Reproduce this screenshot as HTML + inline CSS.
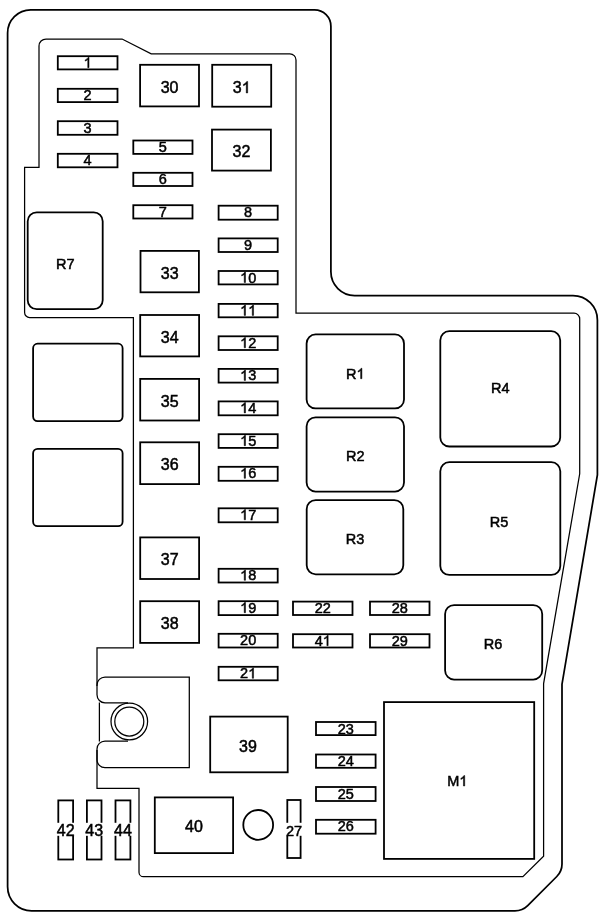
<!DOCTYPE html>
<html><head><meta charset="utf-8"><style>
html,body{margin:0;padding:0;background:#fff;}
body{width:600px;height:917px;overflow:hidden;}
svg{display:block;will-change:transform;}
text{font-family:"Liberation Sans",sans-serif;}
</style></head><body>
<svg width="600" height="917" viewBox="0 0 600 917">
<g fill="none" stroke="#000" stroke-width="1.8">
<path d="M7.6,33 A23.1,23.1 0 0 1 30.7,9.9 H314.5 A16.4,16.4 0 0 1 330.9,26.3 V271.8 A23.7,23.7 0 0 0 354.6,295.5 H573 A24.4,24.4 0 0 1 597.4,319.9 V475 L562,684.2 V864 Q562,871.3 556.8,876.5 L527.7,905.6 Q522.5,910.8 515,910.8 H31.6 A24,24 0 0 1 7.6,886.8 Z" stroke-width="1.75"/>
<path d="M97,686 V647.8 H133.4 V317.5 H29.6 A5,5 0 0 1 24.6,312.5 V167.3 H39 V46 A7,7 0 0 1 46,39 H122.1 L151.2,53.8 H289.9 A6.1,6.1 0 0 1 296,59.9 V313.2 H574 A5.7,5.7 0 0 1 579.7,318.9 V473.8 L543.6,683.6 V856.3 L522.9,876.7 H143.5 A4.5,4.5 0 0 1 139,872.2 V788.3 H97 V750" stroke-width="1.25"/>
<rect x="57.8" y="56.2" width="59.7" height="13.2" rx="0"/>
<text x="87.65" y="67.7" font-size="14.5" fill="#000" stroke="#000" stroke-width="0.5" text-anchor="middle">&#x2007;</text>
<path d="M763,0H583V1147Q518,1085 413,1023Q307,961 223,930V1104Q374,1175 487,1276Q600,1377 647,1472H763Z" transform="translate(83.62,67.70) scale(0.00708,-0.00708)" fill="#000" stroke="#000" stroke-width="70.6"/>
<rect x="57.8" y="88.8" width="59.7" height="13.3" rx="0"/>
<text x="87.65" y="100.3" font-size="14.5" fill="#000" stroke="#000" stroke-width="0.5" text-anchor="middle">2</text>
<rect x="57.8" y="121.2" width="59.7" height="13.6" rx="0"/>
<text x="87.65" y="132.7" font-size="14.5" fill="#000" stroke="#000" stroke-width="0.5" text-anchor="middle">3</text>
<rect x="57.8" y="153.8" width="59.7" height="13.5" rx="0"/>
<text x="87.65" y="165.3" font-size="14.5" fill="#000" stroke="#000" stroke-width="0.5" text-anchor="middle">4</text>
<rect x="133.3" y="140.5" width="59.2" height="13.4" rx="0"/>
<text x="162.9" y="152" font-size="14.5" fill="#000" stroke="#000" stroke-width="0.5" text-anchor="middle">5</text>
<rect x="133.3" y="172.8" width="59.2" height="13.2" rx="0"/>
<text x="162.9" y="184.3" font-size="14.5" fill="#000" stroke="#000" stroke-width="0.5" text-anchor="middle">6</text>
<rect x="133.3" y="205.2" width="59.2" height="13.3" rx="0"/>
<text x="162.9" y="216.7" font-size="14.5" fill="#000" stroke="#000" stroke-width="0.5" text-anchor="middle">7</text>
<rect x="218.6" y="205.7" width="59.1" height="14" rx="0"/>
<text x="248.15" y="217.2" font-size="14.5" fill="#000" stroke="#000" stroke-width="0.5" text-anchor="middle">8</text>
<rect x="218.6" y="238.4" width="59.1" height="13.6" rx="0"/>
<text x="248.15" y="249.9" font-size="14.5" fill="#000" stroke="#000" stroke-width="0.5" text-anchor="middle">9</text>
<rect x="218.6" y="271" width="59.1" height="13.4" rx="0"/>
<text x="248.15" y="282.5" font-size="14.5" fill="#000" stroke="#000" stroke-width="0.5" text-anchor="middle">&#x2007;0</text>
<path d="M763,0H583V1147Q518,1085 413,1023Q307,961 223,930V1104Q374,1175 487,1276Q600,1377 647,1472H763Z" transform="translate(240.09,282.50) scale(0.00708,-0.00708)" fill="#000" stroke="#000" stroke-width="70.6"/>
<rect x="218.6" y="303.9" width="59.1" height="13.4" rx="0"/>
<text x="248.15" y="315.4" font-size="14.5" fill="#000" stroke="#000" stroke-width="0.5" text-anchor="middle">&#x2007;&#x2007;</text>
<path d="M763,0H583V1147Q518,1085 413,1023Q307,961 223,930V1104Q374,1175 487,1276Q600,1377 647,1472H763Z" transform="translate(240.09,315.40) scale(0.00708,-0.00708)" fill="#000" stroke="#000" stroke-width="70.6"/>
<path d="M763,0H583V1147Q518,1085 413,1023Q307,961 223,930V1104Q374,1175 487,1276Q600,1377 647,1472H763Z" transform="translate(248.15,315.40) scale(0.00708,-0.00708)" fill="#000" stroke="#000" stroke-width="70.6"/>
<rect x="218.6" y="336.3" width="59.1" height="13.7" rx="0"/>
<text x="248.15" y="347.8" font-size="14.5" fill="#000" stroke="#000" stroke-width="0.5" text-anchor="middle">&#x2007;2</text>
<path d="M763,0H583V1147Q518,1085 413,1023Q307,961 223,930V1104Q374,1175 487,1276Q600,1377 647,1472H763Z" transform="translate(240.09,347.80) scale(0.00708,-0.00708)" fill="#000" stroke="#000" stroke-width="70.6"/>
<rect x="218.6" y="368.9" width="59.1" height="13.7" rx="0"/>
<text x="248.15" y="380.4" font-size="14.5" fill="#000" stroke="#000" stroke-width="0.5" text-anchor="middle">&#x2007;3</text>
<path d="M763,0H583V1147Q518,1085 413,1023Q307,961 223,930V1104Q374,1175 487,1276Q600,1377 647,1472H763Z" transform="translate(240.09,380.40) scale(0.00708,-0.00708)" fill="#000" stroke="#000" stroke-width="70.6"/>
<rect x="218.6" y="401.4" width="59.1" height="13.9" rx="0"/>
<text x="248.15" y="412.9" font-size="14.5" fill="#000" stroke="#000" stroke-width="0.5" text-anchor="middle">&#x2007;4</text>
<path d="M763,0H583V1147Q518,1085 413,1023Q307,961 223,930V1104Q374,1175 487,1276Q600,1377 647,1472H763Z" transform="translate(240.09,412.90) scale(0.00708,-0.00708)" fill="#000" stroke="#000" stroke-width="70.6"/>
<rect x="218.6" y="434.2" width="59.1" height="13.7" rx="0"/>
<text x="248.15" y="445.7" font-size="14.5" fill="#000" stroke="#000" stroke-width="0.5" text-anchor="middle">&#x2007;5</text>
<path d="M763,0H583V1147Q518,1085 413,1023Q307,961 223,930V1104Q374,1175 487,1276Q600,1377 647,1472H763Z" transform="translate(240.09,445.70) scale(0.00708,-0.00708)" fill="#000" stroke="#000" stroke-width="70.6"/>
<rect x="218.6" y="466.8" width="59.1" height="14" rx="0"/>
<text x="248.15" y="478.3" font-size="14.5" fill="#000" stroke="#000" stroke-width="0.5" text-anchor="middle">&#x2007;6</text>
<path d="M763,0H583V1147Q518,1085 413,1023Q307,961 223,930V1104Q374,1175 487,1276Q600,1377 647,1472H763Z" transform="translate(240.09,478.30) scale(0.00708,-0.00708)" fill="#000" stroke="#000" stroke-width="70.6"/>
<rect x="218.6" y="508.3" width="59.1" height="14" rx="0"/>
<text x="248.15" y="519.8" font-size="14.5" fill="#000" stroke="#000" stroke-width="0.5" text-anchor="middle">&#x2007;7</text>
<path d="M763,0H583V1147Q518,1085 413,1023Q307,961 223,930V1104Q374,1175 487,1276Q600,1377 647,1472H763Z" transform="translate(240.09,519.80) scale(0.00708,-0.00708)" fill="#000" stroke="#000" stroke-width="70.6"/>
<rect x="218.6" y="568.8" width="59.1" height="13.7" rx="0"/>
<text x="248.15" y="580.3" font-size="14.5" fill="#000" stroke="#000" stroke-width="0.5" text-anchor="middle">&#x2007;8</text>
<path d="M763,0H583V1147Q518,1085 413,1023Q307,961 223,930V1104Q374,1175 487,1276Q600,1377 647,1472H763Z" transform="translate(240.09,580.30) scale(0.00708,-0.00708)" fill="#000" stroke="#000" stroke-width="70.6"/>
<rect x="218.6" y="601.2" width="59.1" height="13.9" rx="0"/>
<text x="248.15" y="612.7" font-size="14.5" fill="#000" stroke="#000" stroke-width="0.5" text-anchor="middle">&#x2007;9</text>
<path d="M763,0H583V1147Q518,1085 413,1023Q307,961 223,930V1104Q374,1175 487,1276Q600,1377 647,1472H763Z" transform="translate(240.09,612.70) scale(0.00708,-0.00708)" fill="#000" stroke="#000" stroke-width="70.6"/>
<rect x="218.6" y="633.8" width="59.1" height="13.7" rx="0"/>
<text x="248.15" y="645.3" font-size="14.5" fill="#000" stroke="#000" stroke-width="0.5" text-anchor="middle">20</text>
<rect x="218.6" y="666.8" width="59.1" height="13.5" rx="0"/>
<text x="248.15" y="678.3" font-size="14.5" fill="#000" stroke="#000" stroke-width="0.5" text-anchor="middle">2&#x2007;</text>
<path d="M763,0H583V1147Q518,1085 413,1023Q307,961 223,930V1104Q374,1175 487,1276Q600,1377 647,1472H763Z" transform="translate(248.15,678.30) scale(0.00708,-0.00708)" fill="#000" stroke="#000" stroke-width="70.6"/>
<rect x="293" y="601.6" width="59.5" height="13.4" rx="0"/>
<text x="322.75" y="613.1" font-size="14.5" fill="#000" stroke="#000" stroke-width="0.5" text-anchor="middle">22</text>
<rect x="293" y="634.2" width="59.5" height="13.3" rx="0"/>
<text x="322.75" y="645.7" font-size="14.5" fill="#000" stroke="#000" stroke-width="0.5" text-anchor="middle">4&#x2007;</text>
<path d="M763,0H583V1147Q518,1085 413,1023Q307,961 223,930V1104Q374,1175 487,1276Q600,1377 647,1472H763Z" transform="translate(322.75,645.70) scale(0.00708,-0.00708)" fill="#000" stroke="#000" stroke-width="70.6"/>
<rect x="370" y="601.6" width="59.5" height="13.4" rx="0"/>
<text x="399.75" y="613.1" font-size="14.5" fill="#000" stroke="#000" stroke-width="0.5" text-anchor="middle">28</text>
<rect x="370" y="634.2" width="59.5" height="13.3" rx="0"/>
<text x="399.75" y="645.7" font-size="14.5" fill="#000" stroke="#000" stroke-width="0.5" text-anchor="middle">29</text>
<rect x="316" y="722" width="59.6" height="13.1" rx="0"/>
<text x="345.8" y="733.5" font-size="14.5" fill="#000" stroke="#000" stroke-width="0.5" text-anchor="middle">23</text>
<rect x="316" y="754.5" width="59.6" height="13.3" rx="0"/>
<text x="345.8" y="766" font-size="14.5" fill="#000" stroke="#000" stroke-width="0.5" text-anchor="middle">24</text>
<rect x="316" y="787" width="59.6" height="14" rx="0"/>
<text x="345.8" y="798.5" font-size="14.5" fill="#000" stroke="#000" stroke-width="0.5" text-anchor="middle">25</text>
<rect x="316" y="819.8" width="59.6" height="13.9" rx="0"/>
<text x="345.8" y="831.3" font-size="14.5" fill="#000" stroke="#000" stroke-width="0.5" text-anchor="middle">26</text>
<rect x="140.1" y="64.8" width="58.9" height="41.6" rx="0"/>
<text x="169.55" y="92.8" font-size="16" fill="#000" stroke="#000" stroke-width="0.5" text-anchor="middle">30</text>
<rect x="212.2" y="64.8" width="59" height="41.9" rx="0"/>
<text x="241.7" y="92.95" font-size="16" fill="#000" stroke="#000" stroke-width="0.5" text-anchor="middle">3&#x2007;</text>
<path d="M763,0H583V1147Q518,1085 413,1023Q307,961 223,930V1104Q374,1175 487,1276Q600,1377 647,1472H763Z" transform="translate(241.70,92.95) scale(0.00781,-0.00781)" fill="#000" stroke="#000" stroke-width="64.0"/>
<rect x="212" y="129.6" width="58.9" height="41" rx="0"/>
<text x="241.45" y="157.3" font-size="16" fill="#000" stroke="#000" stroke-width="0.5" text-anchor="middle">32</text>
<rect x="140.5" y="250.9" width="58.4" height="41.4" rx="0"/>
<text x="169.7" y="278.8" font-size="16" fill="#000" stroke="#000" stroke-width="0.5" text-anchor="middle">33</text>
<rect x="140.2" y="315" width="58.9" height="41.4" rx="0"/>
<text x="169.65" y="342.9" font-size="16" fill="#000" stroke="#000" stroke-width="0.5" text-anchor="middle">34</text>
<rect x="140.2" y="378.9" width="58.9" height="41.6" rx="0"/>
<text x="169.65" y="406.9" font-size="16" fill="#000" stroke="#000" stroke-width="0.5" text-anchor="middle">35</text>
<rect x="140.2" y="442.3" width="58.9" height="41.8" rx="0"/>
<text x="169.65" y="470.4" font-size="16" fill="#000" stroke="#000" stroke-width="0.5" text-anchor="middle">36</text>
<rect x="140.2" y="537.4" width="58.9" height="41.6" rx="0"/>
<text x="169.65" y="565.4" font-size="16" fill="#000" stroke="#000" stroke-width="0.5" text-anchor="middle">37</text>
<rect x="140.2" y="601.2" width="58.9" height="41.7" rx="0"/>
<text x="169.65" y="629.25" font-size="16" fill="#000" stroke="#000" stroke-width="0.5" text-anchor="middle">38</text>
<rect x="210.2" y="716.6" width="77.5" height="55.7" rx="0"/>
<text x="248" y="751.65" font-size="16" fill="#000" stroke="#000" stroke-width="0.5" text-anchor="middle">39</text>
<rect x="154.8" y="797.4" width="78.3" height="55.7" rx="0"/>
<text x="193.95" y="832.45" font-size="16" fill="#000" stroke="#000" stroke-width="0.5" text-anchor="middle">40</text>
<rect x="384" y="702.1" width="150.2" height="156.8" rx="0"/>
<text x="457.3" y="786" font-size="14.5" fill="#000" stroke="#000" stroke-width="0.5" text-anchor="middle">M&#x2007;</text>
<path d="M763,0H583V1147Q518,1085 413,1023Q307,961 223,930V1104Q374,1175 487,1276Q600,1377 647,1472H763Z" transform="translate(459.31,786.00) scale(0.00708,-0.00708)" fill="#000" stroke="#000" stroke-width="70.6"/>
<rect x="27.7" y="212.3" width="75" height="96.9" rx="9"/>
<text x="65.2" y="269.4" font-size="14.5" fill="#000" stroke="#000" stroke-width="0.5" text-anchor="middle">R7</text>
<rect x="33.1" y="343.7" width="89.5" height="77.4" rx="4.5"/>
<rect x="33.1" y="448.8" width="89.5" height="77.4" rx="4.5"/>
<rect x="306.6" y="334.4" width="97.4" height="74" rx="9"/>
<text x="355.3" y="378.7" font-size="14.5" fill="#000" stroke="#000" stroke-width="0.5" text-anchor="middle">R&#x2007;</text>
<path d="M763,0H583V1147Q518,1085 413,1023Q307,961 223,930V1104Q374,1175 487,1276Q600,1377 647,1472H763Z" transform="translate(356.50,378.70) scale(0.00708,-0.00708)" fill="#000" stroke="#000" stroke-width="70.6"/>
<rect x="306.6" y="417.3" width="97.4" height="74.3" rx="9"/>
<text x="355.3" y="460.8" font-size="14.5" fill="#000" stroke="#000" stroke-width="0.5" text-anchor="middle">R2</text>
<rect x="306.7" y="500.1" width="96.6" height="74.2" rx="9"/>
<text x="355" y="543.9" font-size="14.5" fill="#000" stroke="#000" stroke-width="0.5" text-anchor="middle">R3</text>
<rect x="440.3" y="331.2" width="119.9" height="115.3" rx="9"/>
<text x="500.25" y="393.4" font-size="14.5" fill="#000" stroke="#000" stroke-width="0.5" text-anchor="middle">R4</text>
<rect x="440.3" y="462.2" width="120" height="112.7" rx="9"/>
<text x="499" y="527.1" font-size="14.5" fill="#000" stroke="#000" stroke-width="0.5" text-anchor="middle">R5</text>
<rect x="445.1" y="605.1" width="97.1" height="74.5" rx="9"/>
<text x="493" y="648.5" font-size="14.5" fill="#000" stroke="#000" stroke-width="0.5" text-anchor="middle">R6</text>
<rect x="58.3" y="800.4" width="14.8" height="59.1" rx="0"/>
<rect x="55.3" y="822.8" width="20.8" height="13" fill="#fff" stroke="none"/>
<text x="65.7" y="836" font-size="16" fill="#000" stroke="#000" stroke-width="0.5" text-anchor="middle">42</text>
<rect x="86.9" y="800.4" width="14.6" height="59.1" rx="0"/>
<rect x="83.9" y="822.8" width="20.6" height="13" fill="#fff" stroke="none"/>
<text x="94.2" y="836" font-size="16" fill="#000" stroke="#000" stroke-width="0.5" text-anchor="middle">43</text>
<rect x="115.5" y="800.4" width="14.9" height="59.1" rx="0"/>
<rect x="112.5" y="822.8" width="20.9" height="13" fill="#fff" stroke="none"/>
<text x="122.95" y="836" font-size="16" fill="#000" stroke="#000" stroke-width="0.5" text-anchor="middle">44</text>
<rect x="287.3" y="800" width="13.3" height="58" rx="0"/>
<rect x="284.3" y="822.8" width="19.3" height="13" fill="#fff" stroke="none"/>
<text x="293.95" y="835.5" font-size="14.5" fill="#000" stroke="#000" stroke-width="0.5" text-anchor="middle">27</text>
<circle cx="258.2" cy="824.9" r="14.9" stroke-width="1.8"/>
<path d="M128,702.8 H105 A8,8 0 0 1 97,694.8 V685 A8,8 0 0 1 105,677 H189.3 V767.7 H105 A8,8 0 0 1 97,759.7 V749 A8,8 0 0 1 105,741 H128 M99.4,702.4 V741.4" stroke-width="1.25"/>
<circle cx="129.3" cy="721.5" r="18.3" stroke-width="1.25"/>
<circle cx="129.3" cy="721.5" r="14.5" stroke-width="1.25"/>
</g>
</svg>
</body></html>
